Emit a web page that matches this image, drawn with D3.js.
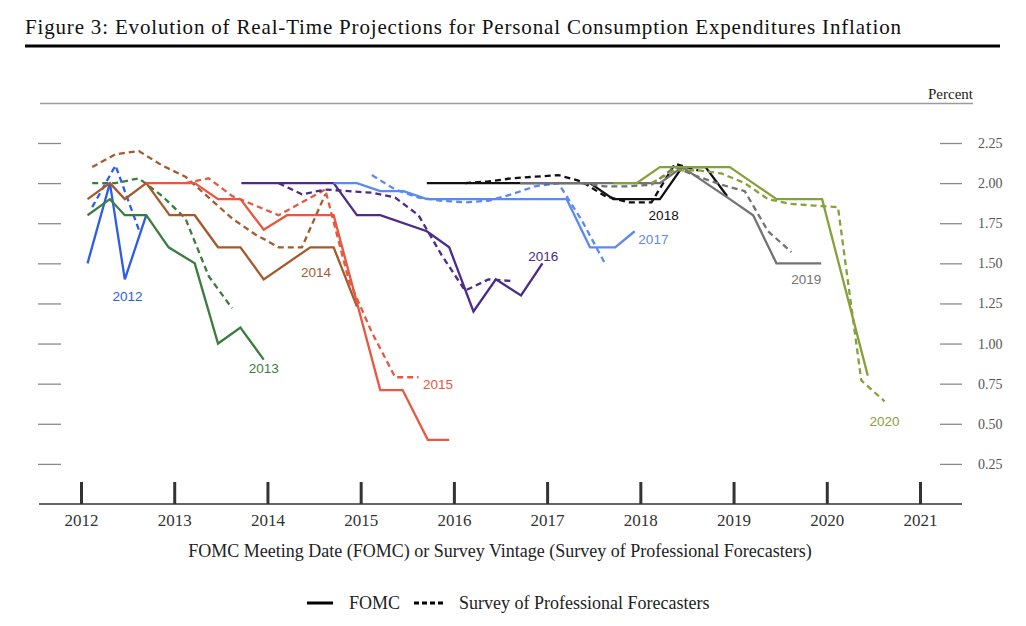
<!DOCTYPE html>
<html>
<head>
<meta charset="utf-8">
<script src="https://cdn.jsdelivr.net/npm/d3@7"></script>
<style>
    body { margin: 0; background: #fff; }
    text { font-family: "Liberation Serif", "DejaVu Serif", serif; }
    .lbl { font-family: "Liberation Sans", Arial, sans-serif; font-size: 13.5px; }
</style>
</head>
<body>
<svg id="chart" width="1026" height="626"></svg>
<script>
// Forecast target years, one colour each
const targetYears = [2012, 2013, 2014, 2015, 2016, 2017, 2018, 2019, 2020]
const yearTicks = [2012, 2013, 2014, 2015, 2016, 2017, 2018, 2019, 2020, 2021]
const pctTicks = [0.25, 0.5, 0.75, 1, 1.25, 1.5, 1.75, 2, 2.25]

// FOMC projections (meeting date as decimal year, value in percent)
const fomc2012Dates = [2012.07, 2012.31, 2012.47, 2012.70]
const fomc2012Vals = [1.50, 2.00, 1.40, 1.80]
const fomc2013Dates = [2012.07, 2012.31, 2012.47, 2012.70, 2012.94, 2013.22, 2013.47, 2013.71, 2013.96]
const fomc2013Vals = [1.80, 1.90, 1.80, 1.80, 1.60, 1.50, 1.00, 1.10, 0.90]
const fomc2014Dates = [2012.07, 2012.31, 2012.47, 2012.70, 2012.95, 2013.22, 2013.47, 2013.71, 2013.96, 2014.46, 2014.71, 2014.96]
const fomc2014Vals = [1.90, 2.00, 1.90, 2.00, 1.80, 1.80, 1.60, 1.60, 1.40, 1.60, 1.60, 1.23]
const fomc2015Dates = [2012.70, 2012.95, 2013.22, 2013.47, 2013.71, 2013.96, 2014.21, 2014.46, 2014.71, 2015.21, 2015.45, 2015.72, 2015.95]
const fomc2015Vals = [2.00, 2.00, 2.00, 1.90, 1.90, 1.71, 1.80, 1.80, 1.80, 0.71, 0.71, 0.40, 0.40]
const fomc2016Dates = [2013.72, 2013.96, 2014.21, 2014.46, 2014.71, 2014.96, 2015.21, 2015.71, 2015.95, 2016.21, 2016.45, 2016.72, 2016.95]
const fomc2016Vals = [2.00, 2.00, 2.00, 2.00, 2.00, 1.80, 1.80, 1.70, 1.60, 1.20, 1.40, 1.30, 1.50]
const fomc2017Dates = [2014.71, 2014.96, 2015.21, 2015.46, 2015.71, 2015.96, 2016.21, 2016.45, 2016.71, 2016.96, 2017.21, 2017.46, 2017.73, 2017.94]
const fomc2017Vals = [2.00, 2.00, 1.95, 1.95, 1.90, 1.90, 1.90, 1.90, 1.90, 1.90, 1.90, 1.60, 1.60, 1.70]
const fomc2018Dates = [2015.71, 2015.96, 2016.21, 2016.45, 2016.71, 2016.96, 2017.21, 2017.46, 2017.71, 2017.96, 2018.21, 2018.45, 2018.70, 2018.93]
const fomc2018Vals = [2.00, 2.00, 2.00, 2.00, 2.00, 2.00, 2.00, 2.00, 1.90, 1.90, 1.90, 2.10, 2.10, 1.92]
const fomc2019Dates = [2016.71, 2016.96, 2017.21, 2017.46, 2017.71, 2017.96, 2018.21, 2018.45, 2018.96, 2019.21, 2019.46, 2019.71, 2019.94]
const fomc2019Vals = [2.00, 2.00, 2.00, 2.00, 2.00, 2.00, 2.00, 2.10, 1.90, 1.80, 1.50, 1.50, 1.50]
const fomc2020Dates = [2017.71, 2017.96, 2018.21, 2018.45, 2018.70, 2018.96, 2019.21, 2019.46, 2019.71, 2019.95, 2020.44]
const fomc2020Vals = [2.00, 2.00, 2.10, 2.10, 2.10, 2.10, 2.00, 1.90, 1.90, 1.90, 0.80]

// Survey of Professional Forecasters (survey vintage as decimal year)
const spf2012Dates = [2012.12, 2012.37, 2012.62]
const spf2012Vals = [1.85, 2.11, 1.71]
const spf2013Dates = [2012.12, 2012.37, 2012.62, 2012.87, 2013.12, 2013.37, 2013.62]
const spf2013Vals = [2.00, 2.00, 2.03, 1.92, 1.78, 1.42, 1.22]
const spf2014Dates = [2012.12, 2012.37, 2012.62, 2012.87, 2013.12, 2013.37, 2013.62, 2013.87, 2014.12, 2014.37, 2014.62]
const spf2014Vals = [2.10, 2.18, 2.20, 2.11, 2.04, 1.91, 1.78, 1.68, 1.60, 1.60, 1.93]
const spf2015Dates = [2013.12, 2013.37, 2013.62, 2013.87, 2014.12, 2014.37, 2014.62, 2014.87, 2015.12, 2015.37, 2015.62]
const spf2015Vals = [2.00, 2.03, 1.92, 1.86, 1.80, 1.88, 1.96, 1.40, 1.07, 0.79, 0.79]
const spf2016Dates = [2014.12, 2014.37, 2014.62, 2014.87, 2015.12, 2015.37, 2015.62, 2015.87, 2016.12, 2016.37, 2016.62]
const spf2016Vals = [2.00, 1.93, 1.96, 1.95, 1.94, 1.91, 1.80, 1.55, 1.33, 1.40, 1.39]
const spf2017Dates = [2015.12, 2015.37, 2015.62, 2015.87, 2016.12, 2016.37, 2016.62, 2016.87, 2017.12, 2017.37, 2017.62]
const spf2017Vals = [2.05, 1.96, 1.91, 1.89, 1.88, 1.89, 1.93, 1.98, 2.00, 1.77, 1.50]
const spf2018Dates = [2016.12, 2016.37, 2016.62, 2016.87, 2017.12, 2017.37, 2017.62, 2017.87, 2018.12, 2018.37, 2018.62]
const spf2018Vals = [2.00, 2.01, 2.03, 2.04, 2.05, 2.01, 1.92, 1.88, 1.88, 2.12, 2.08]
const spf2019Dates = [2017.37, 2017.62, 2017.87, 2018.12, 2018.37, 2018.62, 2018.87, 2019.12, 2019.37, 2019.62]
const spf2019Vals = [2.00, 1.98, 1.98, 1.99, 2.10, 2.04, 1.99, 1.95, 1.70, 1.57]
const spf2020Dates = [2018.12, 2018.37, 2018.62, 2018.87, 2019.12, 2019.37, 2019.62, 2019.87, 2020.12, 2020.37, 2020.62]
const spf2020Vals = [2.00, 2.08, 2.08, 2.06, 2.00, 1.90, 1.87, 1.86, 1.85, 0.77, 0.64]

const fomcDates = [fomc2012Dates, fomc2013Dates, fomc2014Dates, fomc2015Dates, fomc2016Dates, fomc2017Dates, fomc2018Dates, fomc2019Dates, fomc2020Dates]
const fomcVals = [fomc2012Vals, fomc2013Vals, fomc2014Vals, fomc2015Vals, fomc2016Vals, fomc2017Vals, fomc2018Vals, fomc2019Vals, fomc2020Vals]
const spfDates = [spf2012Dates, spf2013Dates, spf2014Dates, spf2015Dates, spf2016Dates, spf2017Dates, spf2018Dates, spf2019Dates, spf2020Dates]
const spfVals = [spf2012Vals, spf2013Vals, spf2014Vals, spf2015Vals, spf2016Vals, spf2017Vals, spf2018Vals, spf2019Vals, spf2020Vals]

// where each year label sits, in data units (date, percent)
const labelDates = [2012.50, 2013.96, 2014.52, 2015.83, 2016.96, 2018.14, 2018.25, 2019.78, 2020.62]
const labelVals = [1.265, 0.816, 1.414, 0.717, 1.514, 1.62, 1.769, 1.371, 0.486]

const colors = ["#2d5de6", "#3b7d3d", "#a65a2c", "#e8573f", "#4c2b8b", "#5a8af0", "#111111", "#737373", "#86a13a"]

const svg = d3.select("#chart")
const scX = d3.scaleLinear().domain([2012, 2021]).range([81, 920])
const scY = d3.scaleLinear().domain([0, 2.25]).range([504, 143])

// title + rules
svg.append("text").attr("x", 25).attr("y", 34)
    .attr("font-size", 21).attr("fill", "#111")
    .attr("textLength", 876)
    .text("Figure 3: Evolution of Real-Time Projections for Personal Consumption Expenditures Inflation")
svg.append("line").attr("x1", 25).attr("x2", 1000).attr("y1", 46).attr("y2", 46)
    .attr("stroke", "#000").attr("stroke-width", 3.2)
svg.append("line").attr("x1", 40).attr("x2", 973).attr("y1", 103.5).attr("y2", 103.5)
    .attr("stroke", "#9a9a9a").attr("stroke-width", 1.3)
svg.append("text").attr("x", 973).attr("y", 99).attr("text-anchor", "end")
    .attr("font-size", 15).attr("fill", "#222").text("Percent")

// y axes: short dashes on the left, dashes + labels on the right
svg.append("g").attr("transform", "translate(61,0)")
    .call(d3.axisLeft(scY).tickValues(pctTicks).tickSize(23).tickFormat(""))
    .call(g => g.select(".domain").remove())
    .selectAll("line").attr("stroke", "#8a8a8a").attr("stroke-width", 1.3)
let yRight = svg.append("g").attr("transform", "translate(940,0)")
    .call(d3.axisRight(scY).tickValues(pctTicks).tickSize(22).tickPadding(16).tickFormat(d3.format(".2f")))
yRight.select(".domain").remove()
yRight.selectAll("line").attr("stroke", "#8a8a8a").attr("stroke-width", 1.3)
yRight.selectAll("text").attr("font-size", 14).attr("fill", "#555")
    .style("font-family", '"Liberation Serif", serif')

// x axis: heavy ticks rising from the baseline
svg.append("line").attr("x1", 39).attr("x2", 962).attr("y1", 504).attr("y2", 504)
    .attr("stroke", "#333").attr("stroke-width", 1.4)
let xAxis = svg.append("g").attr("transform", "translate(0,504)")
    .call(d3.axisBottom(scX).tickValues(yearTicks).tickSize(-22).tickPadding(10).tickFormat(d3.format("d")))
xAxis.select(".domain").remove()
xAxis.selectAll("line").attr("stroke", "#333").attr("stroke-width", 3)
xAxis.selectAll("text").attr("font-size", 17).attr("fill", "#333")
    .style("font-family", '"Liberation Serif", serif')

svg.append("text").attr("x", 500).attr("y", 557).attr("text-anchor", "middle")
    .attr("font-size", 18).attr("fill", "#222")
    .text("FOMC Meeting Date (FOMC) or Survey Vintage (Survey of Professional Forecasters)")

// series
let lnMkr = d3.line().x(d => scX(d[0])).y(d => scY(d[1]))
let plot = svg.append("g")
targetYears.forEach((yr, i) => {
    let fomc = fomcDates[i].map((d, j) => [d, fomcVals[i][j]])
    let spf = spfDates[i].map((d, j) => [d, spfVals[i][j]])
    plot.append("path").attr("d", lnMkr(spf))
        .attr("fill", "none").attr("stroke", colors[i]).attr("stroke-width", 2.3)
        .attr("stroke-dasharray", "6,4")
    plot.append("path").attr("d", lnMkr(fomc))
        .attr("fill", "none").attr("stroke", colors[i]).attr("stroke-width", 2.3)
        .attr("stroke-linejoin", "miter")
    plot.append("text").attr("class", "lbl")
        .attr("x", scX(labelDates[i])).attr("y", scY(labelVals[i]))
        .attr("text-anchor", "middle").attr("fill", colors[i])
        .text(yr)
})

// legend
let legend = svg.append("g").attr("transform", "translate(0,603)")
legend.append("line").attr("x1", 307).attr("x2", 333).attr("stroke", "#000").attr("stroke-width", 3)
legend.append("text").attr("x", 349).attr("y", 6).attr("font-size", 18).attr("fill", "#222").text("FOMC")
legend.append("line").attr("x1", 414).attr("x2", 446).attr("stroke", "#000").attr("stroke-width", 3)
    .attr("stroke-dasharray", "5,3")
legend.append("text").attr("x", 459).attr("y", 6).attr("font-size", 18).attr("fill", "#222")
    .text("Survey of Professional Forecasters")
</script>
</body>
</html>
